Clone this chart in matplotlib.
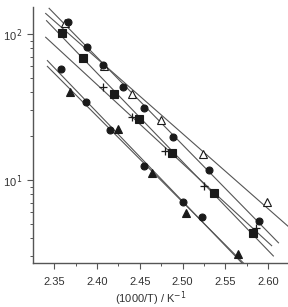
import numpy as np
import matplotlib
matplotlib.use("Agg")
import matplotlib.pyplot as plt
from matplotlib.ticker import LogLocator, NullFormatter, FixedLocator

plt.rcParams['font.family'] = ['Liberation Sans', 'DejaVu Sans']

# open triangles
x_tri_open = [2.3626, 2.4082, 2.4409, 2.4748, 2.5238, 2.5986]
y_tri_open = [118.9, 60.4, 38.8, 25.8, 15.1, 7.06]
# upper filled circles
x_circ_up = [2.3661, 2.3883, 2.4070, 2.4304, 2.4549, 2.4888, 2.5308, 2.5893]
y_circ_up = [120.0, 81.5, 61.4, 43.3, 31.1, 19.7, 11.7, 5.24]
# filled squares
x_sq = [2.3591, 2.3836, 2.4199, 2.4491, 2.4876, 2.5367, 2.5822]
y_sq = [101.6, 68.5, 38.8, 26.2, 15.3, 8.15, 4.33]
# plus signs
x_plus = [2.4070, 2.4409, 2.4794, 2.5250, 2.5857]
y_plus = [43.3, 27.0, 15.8, 9.10, 4.69]
# lower filled circles
x_circ_lo = [2.3579, 2.3871, 2.4152, 2.4549, 2.5005, 2.5227]
y_circ_lo = [57.5, 34.2, 22.0, 12.5, 7.06, 5.59]
# lower filled triangles
x_tri = [2.3685, 2.4245, 2.4643, 2.5040, 2.5647]
y_tri = [40.1, 22.3, 11.2, 5.94, 3.11]

series = [
    (x_tri_open, y_tri_open, '^', 'white', 2.340, 2.625),
    (x_circ_up, y_circ_up, 'o', '#1a1a1a', 2.344, 2.612),
    (x_sq, y_sq, 's', '#1a1a1a', 2.341, 2.606),
    (x_plus, y_plus, '+', '#1a1a1a', 2.340, 2.604),
    (x_circ_lo, y_circ_lo, 'o', '#1a1a1a', 2.342, 2.60),
    (x_tri, y_tri, '^', '#1a1a1a', 2.342, 2.60),
]

fig = plt.figure(figsize=(2.88, 3.07), dpi=100)
ax = fig.add_axes([0.1146, 0.1433, 0.8854, 0.834])

for xs, ys, m, fc, x0, x1 in series:
    xs = np.array(xs)
    ys = np.array(ys)
    k, b = np.polyfit(xs, np.log10(ys), 1)
    xl = np.array([x0, x1])
    ax.plot(xl, 10 ** (k * xl + b), color='#555555', lw=0.8, zorder=1)
    if m == '+':
        ax.plot(xs, ys, ls='none', marker='+', ms=6, mew=0.9,
                color='#1a1a1a', zorder=3)
    else:
        ax.plot(xs, ys, ls='none', marker=m, ms=5 if m == 'o' else 5.2,
                mfc=fc, mec='#1a1a1a', mew=0.8, zorder=3)

ax.set_yscale('log')
ax.set_xlim(2.3252, 2.6231)
ax.set_ylim(2.70, 153)

ax.xaxis.set_major_locator(FixedLocator([2.35, 2.40, 2.45, 2.50, 2.55, 2.60]))
ax.xaxis.set_minor_locator(FixedLocator([2.375, 2.425, 2.475, 2.525, 2.575]))
ax.set_xticklabels(['2.35', '2.40', '2.45', '2.50', '2.55', '2.60'])
ax.yaxis.set_major_locator(FixedLocator([10, 100]))
ax.set_yticklabels(['10$^{\\,1}$', '10$^{\\,2}$'])
ax.yaxis.set_minor_locator(LogLocator(base=10, subs=np.arange(2, 10)))
ax.yaxis.set_minor_formatter(NullFormatter())

for s in ['top', 'right']:
    ax.spines[s].set_visible(False)
for s in ['left', 'bottom']:
    ax.spines[s].set_color('#555555')
    ax.spines[s].set_linewidth(1.0)

ax.tick_params(which='major', direction='out', length=4, width=0.8,
               color='#555555', labelsize=8, labelcolor='#333333')
ax.tick_params(axis='x', which='major', pad=6)
ax.tick_params(which='minor', direction='out', length=2.5, width=0.7,
               color='#555555')

ax.set_xlabel('(1000/T) / K$^{-1}$', fontsize=8, color='#333333')
ax.xaxis.set_label_coords(0.46, -0.102)

fig.savefig('out.png', dpi=100)
